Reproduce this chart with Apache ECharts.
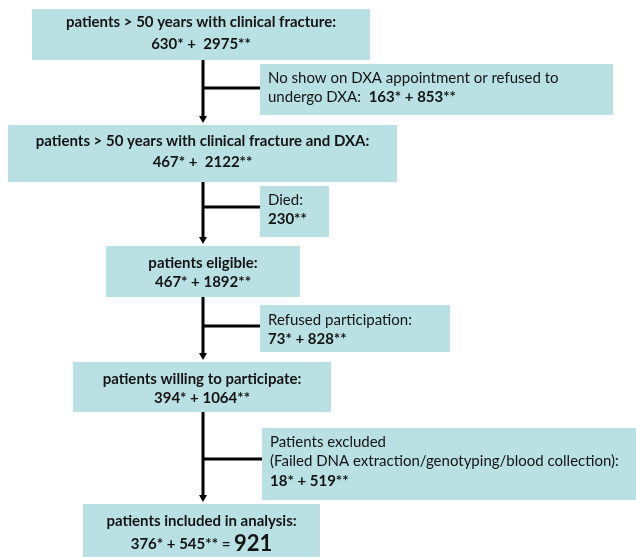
<!DOCTYPE html>
<html>
<head>
<meta charset="utf-8">
<script src="https://cdn.jsdelivr.net/npm/echarts@6/dist/echarts.min.js"></script>
<style>html,body{margin:0;padding:0;background:#fff}#c{width:636px;height:557px}</style>
</head>
<body>
<div id="c"></div>
<script>
// ---- data ----
const mainTitles = [
  'patients > 50 years with clinical fracture:',
  'patients > 50 years with clinical fracture and DXA:',
  'patients eligible:',
  'patients willing to participate:',
  'patients included in analysis:'
];
const mainStar = [630, 467, 467, 394, 376];      // *
const mainDouble = [2975, 2122, 1892, 1064, 545]; // **
const totalIncluded = 921;

const exclTitles = [
  ['No show on DXA appointment or refused to', 'undergo DXA:'],
  ['Died:'],
  ['Refused participation:'],
  ['Patients excluded', '(Failed DNA extraction/genotyping/blood collection):']
];
const exclStar = [163, null, 73, 18];
const exclDouble = [853, 230, 828, 519];

// ---- layout (pixels in a 636 x 557 frame) ----
const mainBoxes = [[32,9,370,60],[8,125,397,182],[106,246,300,297],[73,362,331,412],[83,504,320,557]];
const mainTextTop = [11, 130.5, 253.5, 369.5, 511.5];
const mainLineH = [22, 21, 19, 19, 19];
const sideBoxes = [[260,64,613,115],[260,186,329,237],[260,305,450,352],[262,428,636,500]];
const sideTextTop = [68.5, 190.5, 310.5, 432.2];
const sideLineH = [19, 19, 19, 19.5];
const spineX = 203;
const branchY = [88, 207, 326, 459];

const FILL = '#b9e0e3';
const INK = '#141414';
const FONT = 'Lato';
const FS = 15;

function mainText(i) {
  const sp = (i < 2) ? ' +  ' : ' + ';
  if (i === mainTitles.length - 1) {
    return '{b|' + mainTitles[i] + '}\n{b|' + mainStar[i] + '*' + sp + mainDouble[i] + '** = }{big|' + totalIncluded + '}';
  }
  return '{b|' + mainTitles[i] + '}\n{b|' + mainStar[i] + '*' + sp + mainDouble[i] + '**}';
}
function sideText(i) {
  const t = exclTitles[i];
  const nums = (exclStar[i] != null ? exclStar[i] + '* + ' : '') + exclDouble[i] + '**';
  const lines = t.map(s => '{n|' + s + '}');
  if (i === 0) {
    lines[lines.length - 1] = '{n|' + t[t.length - 1] + '  }{b|' + nums + '}';
  } else {
    lines.push('{b|' + nums + '}');
  }
  return lines.join('\n');
}

const chart = echarts.init(document.getElementById('c'), null, {renderer: 'canvas'});

const boxData = [];
mainBoxes.forEach((b, i) => boxData.push({value: [b[0], b[1], b[2], b[3], mainTextTop[i], 0, i, mainLineH[i]]}));
sideBoxes.forEach((b, i) => boxData.push({value: [b[0], b[1], b[2], b[3], sideTextTop[i], 1, i, sideLineH[i]]}));

const linkData = branchY.map((y, i) => ({value: [spineX, mainBoxes[i][3], mainBoxes[i + 1][1], y, sideBoxes[i][0]]}));

chart.setOption({
  animation: false,
  grid: {left: 0, right: 0, top: 0, bottom: 0},
  xAxis: {type: 'value', min: 0, max: 636, show: false},
  yAxis: {type: 'value', min: 0, max: 557, inverse: true, show: false},
  series: [
    {
      type: 'custom',
      data: linkData,
      z: 1,
      renderItem: function (params, api) {
        const x = api.value(0), y0 = api.value(1), y1 = api.value(2), by = api.value(3), sx = api.value(4);
        const top = api.coord([x, y0]);
        const tip = api.coord([x, y1 - 2]);
        const br = api.coord([x, by]);
        const side = api.coord([sx, by]);
        const ah = 7, aw = 4;
        return {
          type: 'group',
          children: [
            {type: 'line', shape: {x1: top[0], y1: top[1], x2: tip[0], y2: tip[1] - ah + 1}, style: {stroke: '#000', lineWidth: 3}},
            {type: 'line', shape: {x1: br[0], y1: br[1], x2: side[0], y2: side[1]}, style: {stroke: '#000', lineWidth: 3}},
            {type: 'polygon', shape: {points: [[tip[0] - aw, tip[1] - ah], [tip[0] + aw, tip[1] - ah], [tip[0], tip[1]]]}, style: {fill: '#000'}}
          ]
        };
      }
    },
    {
      type: 'custom',
      data: boxData,
      z: 2,
      renderItem: function (params, api) {
        const p0 = api.coord([api.value(0), api.value(1)]);
        const p1 = api.coord([api.value(2), api.value(3)]);
        const tt = api.coord([0, api.value(4)])[1];
        const kind = api.value(5), idx = api.value(6), lh = api.value(7);
        const rect = {type: 'rect', shape: {x: p0[0], y: p0[1], width: p1[0] - p0[0], height: p1[1] - p0[1]}, style: {fill: FILL}};
        let text;
        if (kind === 0) {
          text = {type: 'text', x: (p0[0] + p1[0]) / 2, y: tt, style: {
            text: mainText(idx), align: 'center', verticalAlign: 'top', fill: INK,
            rich: {
              b: {fontFamily: FONT, fontWeight: 'bold', fontSize: FS, lineHeight: lh, fill: INK},
              big: {fontFamily: FONT, fontWeight: 'bold', fontSize: 22, lineHeight: 27, fill: INK}
            }
          }};
        } else {
          text = {type: 'text', x: p0[0] + 8, y: tt, style: {
            text: sideText(idx), align: 'left', verticalAlign: 'top', fill: INK,
            rich: {
              n: {fontFamily: FONT, fontSize: FS, lineHeight: lh, fill: INK},
              b: {fontFamily: FONT, fontWeight: 'bold', fontSize: FS, lineHeight: lh, fill: INK}
            }
          }};
        }
        return {type: 'group', children: [rect, text]};
      }
    }
  ]
});
</script>
</body>
</html>
